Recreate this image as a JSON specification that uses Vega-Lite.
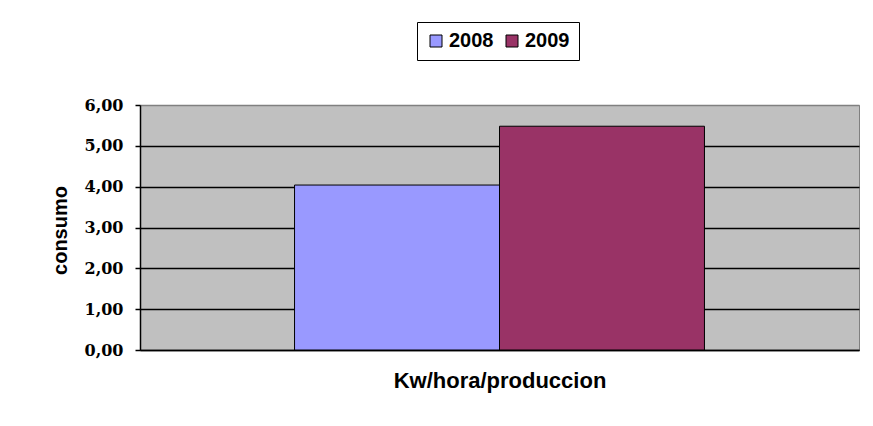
{
  "$schema": "https://vega.github.io/schema/vega-lite/v6.json",
  "width": 719,
  "height": 245,
  "autosize": {"type": "none"},
  "padding": {"left": 140, "top": 105, "right": 14, "bottom": 76},
  "background": "white",
  "data": {
    "values": [
      {"categoria": "Kw/hora/produccion", "anio": "2008", "consumo": 4.04},
      {"categoria": "Kw/hora/produccion", "anio": "2009", "consumo": 5.48}
    ]
  },
  "mark": {"type": "bar", "stroke": "black", "strokeWidth": 1},
  "encoding": {
    "x": {
      "field": "categoria",
      "type": "nominal",
      "scale": {"paddingInner": 0, "paddingOuter": 0.377},
      "axis": {
        "title": "Kw/hora/produccion",
        "labels": false,
        "ticks": false,
        "domainColor": "black",
        "domainWidth": 1.5,
        "titleFont": "Liberation Sans",
        "titleFontWeight": "bold",
        "titleFontSize": 22,
        "titleColor": "black",
        "titleBaseline": "alphabetic",
        "titleY": 37
      }
    },
    "xOffset": {
      "field": "anio",
      "type": "nominal",
      "scale": {"paddingInner": 0, "paddingOuter": 0}
    },
    "y": {
      "field": "consumo",
      "type": "quantitative",
      "scale": {"domain": [0, 6], "nice": false},
      "axis": {
        "values": [0, 1, 2, 3, 4, 5, 6],
        "labelExpr": "replace(format(datum.value, '.2f'), '.', ',')",
        "domainColor": "black",
        "domainWidth": 1.5,
        "tickColor": "black",
        "tickWidth": 1.5,
        "tickSize": 5,
        "labelFont": "DejaVu Serif",
        "labelFontWeight": "bold",
        "labelFontSize": 16,
        "labelColor": "black",
        "labelPadding": 12,
        "grid": true,
        "gridColor": {"condition": {"test": "datum.value === 6", "value": "#808080"}, "value": "black"},
        "gridWidth": 1.5,
        "gridOpacity": 1,
        "title": "consumo",
        "titleFont": "Liberation Sans",
        "titleFontWeight": "bold",
        "titleFontSize": 20,
        "titleColor": "black",
        "titleX": -80,
        "titleY": 125,
        "titleBaseline": "middle"
      }
    },
    "color": {
      "field": "anio",
      "type": "nominal",
      "scale": {"domain": ["2008", "2009"], "range": ["#9999FF", "#993366"]},
      "legend": {
        "orient": "none",
        "legendX": 277,
        "legendY": -83,
        "direction": "horizontal",
        "title": null,
        "symbolType": "square",
        "symbolSize": 144,
        "symbolStrokeColor": "black",
        "symbolStrokeWidth": 1,
        "symbolOpacity": 1,
        "labelFont": "Liberation Sans",
        "labelFontSize": 20,
        "labelFontWeight": "bold",
        "labelColor": "black",
        "labelOffset": 3,
        "strokeColor": "black",
        "fillColor": "white",
        "padding": 9,
        "columnPadding": 8
      }
    }
  },
  "config": {
    "view": {"fill": "#C0C0C0", "stroke": "#808080"}
  }
}
